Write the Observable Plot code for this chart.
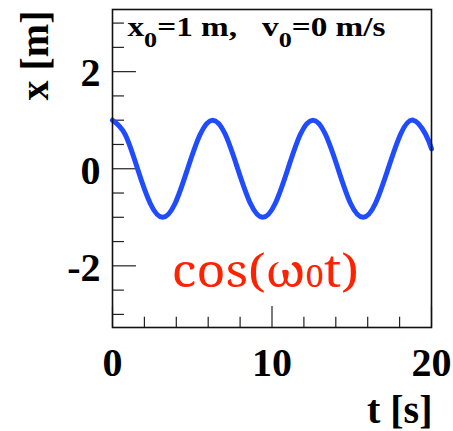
<!DOCTYPE html>
<html>
<head>
<meta charset="utf-8">
<script src="https://cdn.jsdelivr.net/npm/d3@7"></script>
<script src="https://cdn.jsdelivr.net/npm/@observablehq/plot@0.6"></script>
<style>
  html, body { margin: 0; padding: 0; background: #fff; }
  #chart svg { display: block; }
</style>
</head>
<body>
<div id="chart"></div>
<script>
// Displacement x(t) of an undamped oscillator, sampled every eighth of a period
const tValues = [0, 0.79, 1.57, 2.36, 3.14, 3.93, 4.71, 5.50, 6.28, 7.07, 7.85, 8.64,
  9.42, 10.21, 11.00, 11.78, 12.57, 13.35, 14.14, 14.92, 15.71, 16.49, 17.28, 18.06,
  18.85, 19.63, 20];
const xValues = [1, 0.71, 0, -0.71, -1, -0.71, 0, 0.71, 1, 0.71, 0, -0.71,
  -1, -0.71, 0, 0.71, 1, 0.71, 0, -0.71, -1, -0.71, 0, 0.71,
  1, 0.71, 0.41];

const tMajor = [0, 10, 20];
const tMinor = [2, 4, 6, 8, 12, 14, 16, 18];
const xMajor = [-2, 0, 2];
const xMinor = [-3, -2.5, -1.5, -1, -0.5, 0.5, 1, 1.5, 2.5, 3];
const tTickLabels = ["0", "10", "20"];
const xTickLabels = ["-2", "0", "2"];

const series = tValues.map((t, i) => ({t, x: xValues[i]}));

const serifBold = "Times New Roman";
const serifRegular = "Noto Serif";
const xDomain = [0, 20];
const yDomain = [-3.27, 3.28];

const plot = Plot.plot({
  width: 453,
  height: 431,
  marginLeft: 112,
  marginRight: 22,
  marginTop: 9,
  marginBottom: 104,
  x: {domain: xDomain, axis: null},
  y: {domain: yDomain, axis: null},
  style: {background: "#fff", overflow: "visible"},
  marks: [
    // inward tick marks on the left edge
    Plot.ruleY(xMajor, {y: d => d, x1: 0, x2: 1.5, stroke: "#222", strokeWidth: 1.2}),
    Plot.ruleY(xMinor, {y: d => d, x1: 0, x2: 0.75, stroke: "#222", strokeWidth: 1.2}),
    // inward tick marks on the bottom edge
    Plot.ruleX(tMajor, {x: d => d, y1: yDomain[0], y2: yDomain[0] + 0.43, stroke: "#222", strokeWidth: 1.2}),
    Plot.ruleX(tMinor, {x: d => d, y1: yDomain[0], y2: yDomain[0] + 0.21, stroke: "#222", strokeWidth: 1.2}),
    // the oscillation
    Plot.line(series, {x: "t", y: "x", curve: "natural", stroke: "#1f4cff", strokeWidth: 5}),
    Plot.frame({stroke: "#111", strokeWidth: 1.6}),
    // tick labels
    Plot.text(xMajor, {y: d => d, text: (d, i) => xTickLabels[i], frameAnchor: "left", dx: -12, dy: 2,
      textAnchor: "end", fontSize: 40, fontFamily: serifBold, fontWeight: "bold", fill: "#000"}),
    Plot.text(tMajor, {x: d => d, text: (d, i) => tTickLabels[i], frameAnchor: "bottom", dy: 48,
      lineAnchor: "bottom", fontSize: 40, fontFamily: serifBold, fontWeight: "bold", fill: "#000"}),
    // axis titles
    Plot.text(["t [s]"], {frameAnchor: "bottom-right", dx: 1, dy: 95, lineAnchor: "bottom",
      textAnchor: "end", fontSize: 40, fontFamily: serifBold, fontWeight: "bold", fill: "#000"}),
    Plot.text(["x [m]"], {frameAnchor: "top-left", dx: -65, dy: 1, rotate: -90, lineAnchor: "bottom",
      textAnchor: "end", fontSize: 40, fontFamily: serifBold, fontWeight: "bold", fill: "#000"}),
    // initial conditions
    Plot.text(["x0=1 m,   v0=0 m/s"], {frameAnchor: "top-left", dx: 15, dy: 26, lineAnchor: "bottom",
      textAnchor: "start", fontSize: 28, fontFamily: serifBold, fontWeight: "bold", fill: "#000", className: "init-cond"}),
    // formula label
    Plot.text(["cos(ω0t)"], {x: 3.72, y: -2.43, lineAnchor: "bottom", textAnchor: "start",
      fontSize: 46, fontFamily: serifRegular, fill: "#ff2200", className: "formula"})
  ]
});

// initial-condition label: subscripted zeros, set a little wide
d3.select(plot).selectAll("g.init-cond text").each(function () {
  const t = d3.select(this);
  t.text(null);
  const parts = [["x", 0], ["0", 1], ["=1 m,\u00a0\u00a0\u00a0v", -1], ["0", 1], ["=0 m/s", -1]];
  for (const [s, shift] of parts) {
    const span = t.append("tspan").text(s);
    if (shift > 0) span.attr("font-size", 22).attr("dy", 11);
    else if (shift < 0) span.attr("dy", -11);
  }
  t.attr("textLength", 258).attr("lengthAdjust", "spacingAndGlyphs");
});

// the zero after omega is set smaller, on the same baseline
d3.select(plot).selectAll("g.formula text").each(function () {
  const t = d3.select(this);
  t.text(null);
  t.append("tspan").text("cos(ω");
  t.append("tspan").text("0").attr("font-size", 30);
  t.append("tspan").text("t)");
  t.attr("textLength", 187).attr("lengthAdjust", "spacingAndGlyphs");
});

document.getElementById("chart").appendChild(plot);
</script>
</body>
</html>
